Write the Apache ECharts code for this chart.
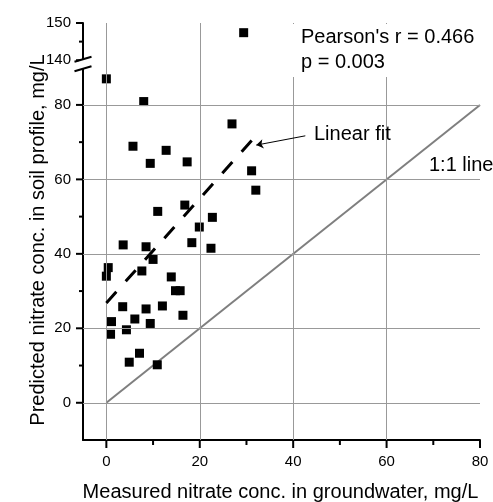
<!DOCTYPE html>
<html>
<head>
<meta charset="utf-8">
<script src="https://cdn.jsdelivr.net/npm/echarts@6/dist/echarts.min.js"></script>
<style>
html, body { margin: 0; padding: 0; background: #fff; }
#main { width: 493px; height: 502px; }
</style>
</head>
<body>
<div id="main"></div>
<script>
// measured nitrate in groundwater (x) vs predicted in soil profile (y), mg/L
var measured = [29.4, 0, 8.0, 26.9, 5.7, 12.8, 9.4, 17.3, 31.1, 32.0, 11.0, 16.8, 22.7, 19.9, 3.6, 8.5, 18.3, 22.4, 10.0, 0.4, 0, 7.6, 13.9, 14.8, 15.8, 3.5, 8.5, 12.0, 16.4, 1.1, 6.1, 9.4, 4.3, 0.9, 7.1, 4.9, 10.9];
var predicted = [147.4, 87.0, 80.9, 74.9, 68.9, 67.8, 64.3, 64.7, 62.3, 57.1, 51.4, 53.1, 49.8, 47.2, 42.4, 41.9, 43.0, 41.5, 38.5, 36.3, 34.0, 35.4, 33.8, 30.1, 30.1, 25.8, 25.2, 26.0, 23.5, 21.8, 22.5, 21.3, 19.6, 18.4, 13.3, 10.9, 10.2];
var fitX = [0, 32];
var fitY = [26.8, 71.7];
var oneToOneX = [0, 80];
var oneToOneY = [0, 80];
var arrowX = [42.6, 32.1];
var arrowY = [71.7, 69.2];
var xTicks = [0, 20, 40, 60, 80];
var xMinorTicks = [10, 30, 50, 70];
var yTicks = [0, 20, 40, 60, 80, 140, 150];
var yMinorTicks = [10, 30, 50, 70, 145];
var xGrid = [0, 20, 40, 60];
var yGrid = [0, 20, 40, 60, 80];
var xMin = -5, xMax = 80, yMin = -10, yMax = 150;

// y axis is broken: 140 sits where 92 would be
var breakFrom = 140, breakTo = 92;
function brokenY(v) { return v >= breakFrom ? v - (breakFrom - breakTo) : v; }
function realY(v) { return v >= breakTo ? v + (breakFrom - breakTo) : v; }

var font = "'Liberation Sans', Arial, sans-serif";

var points = [];
for (var i = 0; i < measured.length; i++) {
  points.push([measured[i], brokenY(predicted[i])]);
}
var fit = [];
for (var j = 0; j < fitX.length; j++) fit.push([fitX[j], fitY[j]]);
var diag = [];
for (var k = 0; k < oneToOneX.length; k++) diag.push([oneToOneX[k], oneToOneY[k]]);

var gridLines = [];
xGrid.forEach(function (v) { gridLines.push({ xAxis: v }); });
yGrid.forEach(function (v) { gridLines.push({ yAxis: v }); });

function seg(x1, y1, x2, y2) {
  return { type: "line", shape: { x1: x1, y1: y1, x2: x2, y2: y2 }, style: { stroke: "#000", lineWidth: 2, lineDash: [40, 0] } };
}

function textEl(x, y, str, align) {
  return { type: "text", z: 51, x: x, y: y, style: { text: str, font: "20px " + font, fill: "#000", align: align || "left", verticalAlign: "middle" } };
}

// axis ticks and the "//" break mark, placed through the axis scales
function renderAxisMarks(params, api) {
  var children = [];
  xTicks.forEach(function (v) { var c = api.coord([v, yMin]); children.push(seg(c[0], c[1], c[0], c[1] + 8)); });
  xMinorTicks.forEach(function (v) { var c = api.coord([v, yMin]); children.push(seg(c[0], c[1], c[0], c[1] + 5)); });
  yTicks.forEach(function (v) { var c = api.coord([xMin, brokenY(v)]); children.push(seg(c[0] - 7, c[1], c[0], c[1])); });
  yMinorTicks.forEach(function (v) { var c = api.coord([xMin, brokenY(v)]); children.push(seg(c[0] - 4, c[1], c[0], c[1])); });

  var b = api.coord([xMin, brokenY(breakFrom)]);
  var ax = b[0], y1 = b[1] - 1, y2 = y1 + 9.6;
  children.push({ type: "polygon", shape: { points: [[ax - 4, y1 + 1.2], [ax + 4, y1 - 1.2], [ax + 4, y2 - 1.2], [ax - 4, y2 + 1.2]] }, style: { fill: "#fff" } });
  children.push(seg(ax - 8.5, y1 + 2.5, ax + 8.5, y1 - 2.5));
  children.push(seg(ax - 8.5, y2 + 2.5, ax + 8.5, y2 - 2.5));
  return { type: "group", children: children };
}

var chart = echarts.init(document.getElementById("main"));
chart.setOption({
  animation: false,
  grid: { left: 83, right: 13, top: 23, bottom: 62 },
  xAxis: {
    type: "value", min: xMin, max: xMax,
    axisLine: { show: true, onZero: false, lineStyle: { color: "#000", width: 2 } },
    axisTick: { show: false },
    axisLabel: { customValues: xTicks, margin: 14, fontSize: 15, color: "#000", fontFamily: font },
    splitLine: { show: false }
  },
  yAxis: {
    type: "value", min: yMin, max: brokenY(yMax),
    axisLine: { show: true, onZero: false, lineStyle: { color: "#000", width: 2 } },
    axisTick: { show: false },
    axisLabel: {
      customValues: yTicks.map(brokenY), margin: 12, fontSize: 15, color: "#000", fontFamily: font,
      formatter: function (v) { return String(realY(v)); }
    },
    splitLine: { show: false }
  },
  series: [
    {
      // grid lines
      type: "line", data: [], z: 1, silent: true,
      markLine: {
        silent: true, symbol: "none", animation: false,
        label: { show: false },
        lineStyle: { type: "solid", color: "#999", width: 1 },
        emphasis: { disabled: true },
        data: gridLines
      }
    },
    {
      type: "line", data: diag, symbol: "none", z: 2,
      lineStyle: { color: "#7f7f7f", width: 2 }
    },
    {
      // dashed fit on its own layer
      type: "line", data: fit, symbol: "none", zlevel: 1,
      lineStyle: { color: "#000", width: 3, type: [15, 14] }
    },
    {
      type: "scatter", data: points, symbol: "rect", symbolSize: 9, z: 4,
      itemStyle: { color: "#000", opacity: 1 }
    },
    {
      type: "lines", coordinateSystem: "cartesian2d", z: 5,
      symbol: ["none", "arrow"], symbolSize: 7,
      lineStyle: { color: "#000", width: 1, opacity: 1 },
      data: [{ coords: [[arrowX[0], arrowY[0]], [arrowX[1], arrowY[1]]] }]
    },
    {
      type: "custom", zlevel: 2, silent: true, clip: false,
      data: [[xMin, yMin]],
      renderItem: renderAxisMarks
    }
  ],
  graphic: [
    { type: "rect", z: 50, shape: { x: 288, y: 24, width: 194, height: 53 }, style: { fill: "#fff" } },
    textEl(301, 37.5, "Pearson's r = 0.466"),
    textEl(301, 62, "p = 0.003"),
    textEl(314, 134, "Linear fit"),
    textEl(429, 165.5, "1:1 line"),
    textEl(280.5, 492, "Measured nitrate conc. in groundwater, mg/L", "center"),
    { type: "text", z: 51, x: 38, y: 240, rotation: Math.PI / 2, style: { text: "Predicted nitrate conc. in soil profile, mg/L", font: "20px " + font, fill: "#000", align: "center", verticalAlign: "middle" } }
  ]
});
</script>
</body>
</html>
